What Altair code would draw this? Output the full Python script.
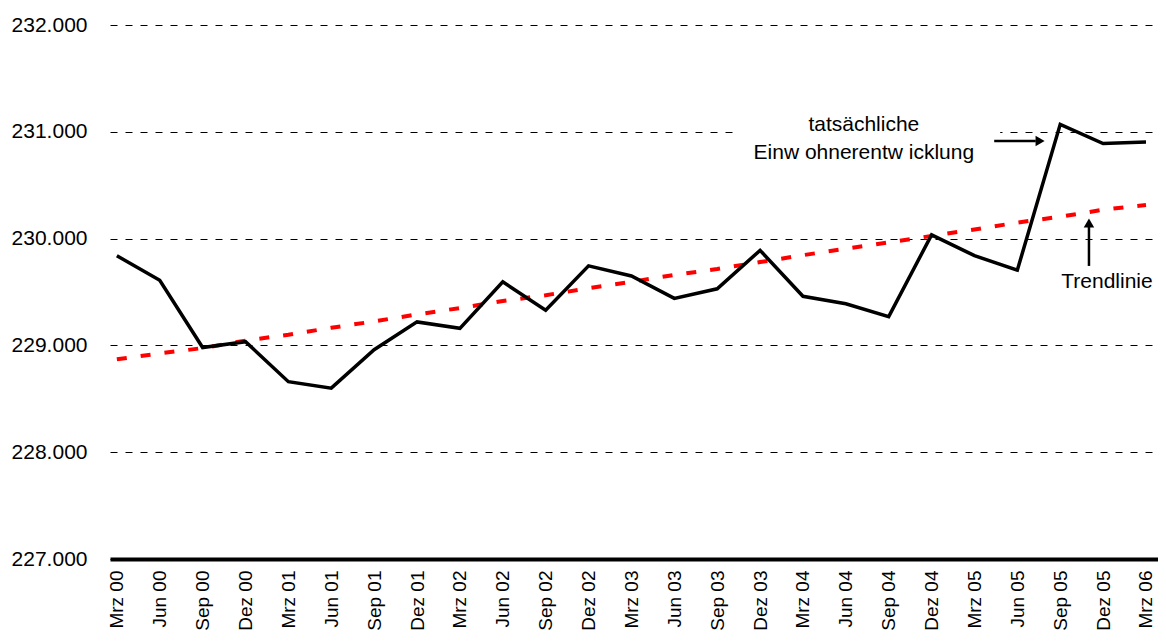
import json
import altair as alt
import pandas as pd

# ---- data ----
labels = ["Mrz 00", "Jun 00", "Sep 00", "Dez 00", "Mrz 01", "Jun 01", "Sep 01", "Dez 01",
          "Mrz 02", "Jun 02", "Sep 02", "Dez 02", "Mrz 03", "Jun 03", "Sep 03", "Dez 03",
          "Mrz 04", "Jun 04", "Sep 04", "Dez 04", "Mrz 05", "Jun 05", "Sep 05", "Dez 05", "Mrz 06"]
actual = [229840, 229610, 228980, 229035, 228660, 228600, 228960, 229220,
          229160, 229595, 229330, 229745, 229650, 229440, 229530, 229890,
          229460, 229390, 229270, 230035, 229840, 229705, 231070, 230890, 230905]
trend = [228870, 228925, 228975, 229045, 229100, 229165, 229225, 229290,
         229350, 229415, 229470, 229535, 229595, 229660, 229715, 229780,
         229845, 229905, 229965, 230025, 230085, 230150, 230205, 230270, 230315]
y_ticks = [227000, 228000, 229000, 230000, 231000, 232000]

# annotations (in data coordinates: x = quarter index, y = inhabitants)
note_text = ["tatsächliche", "Einw ohnerentw icklung", "Trendlinie"]
note_x = [17.42, 17.42, 23.09]
note_y = [231064, 230800, 229594]
box_x, box_x2, box_y, box_y2 = [14.42], [20.60], [231330], [230660]
shaft_x = [20.46, 22.67]
shaft_x2 = [21.43, 22.67]
shaft_y = [230914, 229744]
shaft_y2 = [230914, 230130]
head_x = [21.53, 22.67]
head_y = [230914, 230146]
head_shape = ["triangle-right", "triangle-up"]

df = pd.DataFrame({"i": list(range(len(labels))), "label": labels,
                   "actual": actual, "trend": trend})
notes = pd.DataFrame({"x": note_x, "y": note_y, "t": note_text})
box = pd.DataFrame({"x": box_x, "x2": box_x2, "y": box_y, "y2": box_y2})
shafts = pd.DataFrame({"x": shaft_x, "x2": shaft_x2, "y": shaft_y, "y2": shaft_y2})
heads = pd.DataFrame({"x": head_x, "y": head_y, "shape": head_shape})

FONT = "Arial, Liberation Sans"
label_expr = json.dumps(labels) + "[round(datum.value)]"

xscale = alt.Scale(domain=[-0.16, 24.28], nice=False, zero=False)
yscale = alt.Scale(domain=[227000, 232000], nice=False, zero=False)

xaxis = alt.Axis(values=list(range(len(labels))), labelExpr=label_expr, title=None,
                 labelAngle=270, labelFontSize=19, labelFont=FONT, labelColor="black",
                 labelPadding=11, ticks=False, grid=False, domain=True,
                 domainColor="black", domainWidth=4, labelOverlap=False)
yaxis = alt.Axis(values=y_ticks, title=None,
                 labelExpr="replace(format(datum.value, ',d'), ',', '.')",
                 labelFontSize=21, labelFont=FONT, labelColor="black", labelPadding=23,
                 ticks=False, domain=False, grid=True, gridColor="black",
                 gridDash=[7, 8], gridWidth=1, gridOpacity=1)

base = alt.Chart(df)

trend_line = base.mark_line(color="#ff0000", strokeWidth=4, strokeDash=[10, 14]).encode(
    x=alt.X("i:Q", scale=xscale, axis=xaxis),
    y=alt.Y("trend:Q", scale=yscale, axis=yaxis),
)
actual_line = base.mark_line(color="black", strokeWidth=3.5, strokeJoin="miter").encode(
    x=alt.X("i:Q", scale=xscale),
    y=alt.Y("actual:Q", scale=yscale),
)
box_layer = alt.Chart(box).mark_rect(color="white").encode(
    x=alt.X("x:Q", scale=xscale), x2="x2", y=alt.Y("y:Q", scale=yscale), y2="y2"
)
text_layer = alt.Chart(notes).mark_text(fontSize=21, font=FONT, color="black",
                                        align="center", baseline="middle").encode(
    x=alt.X("x:Q", scale=xscale), y=alt.Y("y:Q", scale=yscale), text="t:N"
)
shaft_layer = alt.Chart(shafts).mark_rule(color="black", strokeWidth=2.5).encode(
    x=alt.X("x:Q", scale=xscale), x2="x2", y=alt.Y("y:Q", scale=yscale), y2="y2"
)
head_layer = alt.Chart(heads).mark_point(filled=True, color="black", opacity=1, size=110).encode(
    x=alt.X("x:Q", scale=xscale), y=alt.Y("y:Q", scale=yscale),
    shape=alt.Shape("shape:N", scale=None, legend=None)
)

chart = alt.layer(box_layer, trend_line, actual_line, text_layer, shaft_layer, head_layer).properties(
    width=1048, height=534,
    autosize=alt.AutoSizeParams(type="none"),
    padding={"left": 102, "top": 17, "right": 0, "bottom": 72},
    background="white",
).configure_view(stroke=None)

chart.save("out.html", embed_options={"renderer": "svg", "actions": False})
